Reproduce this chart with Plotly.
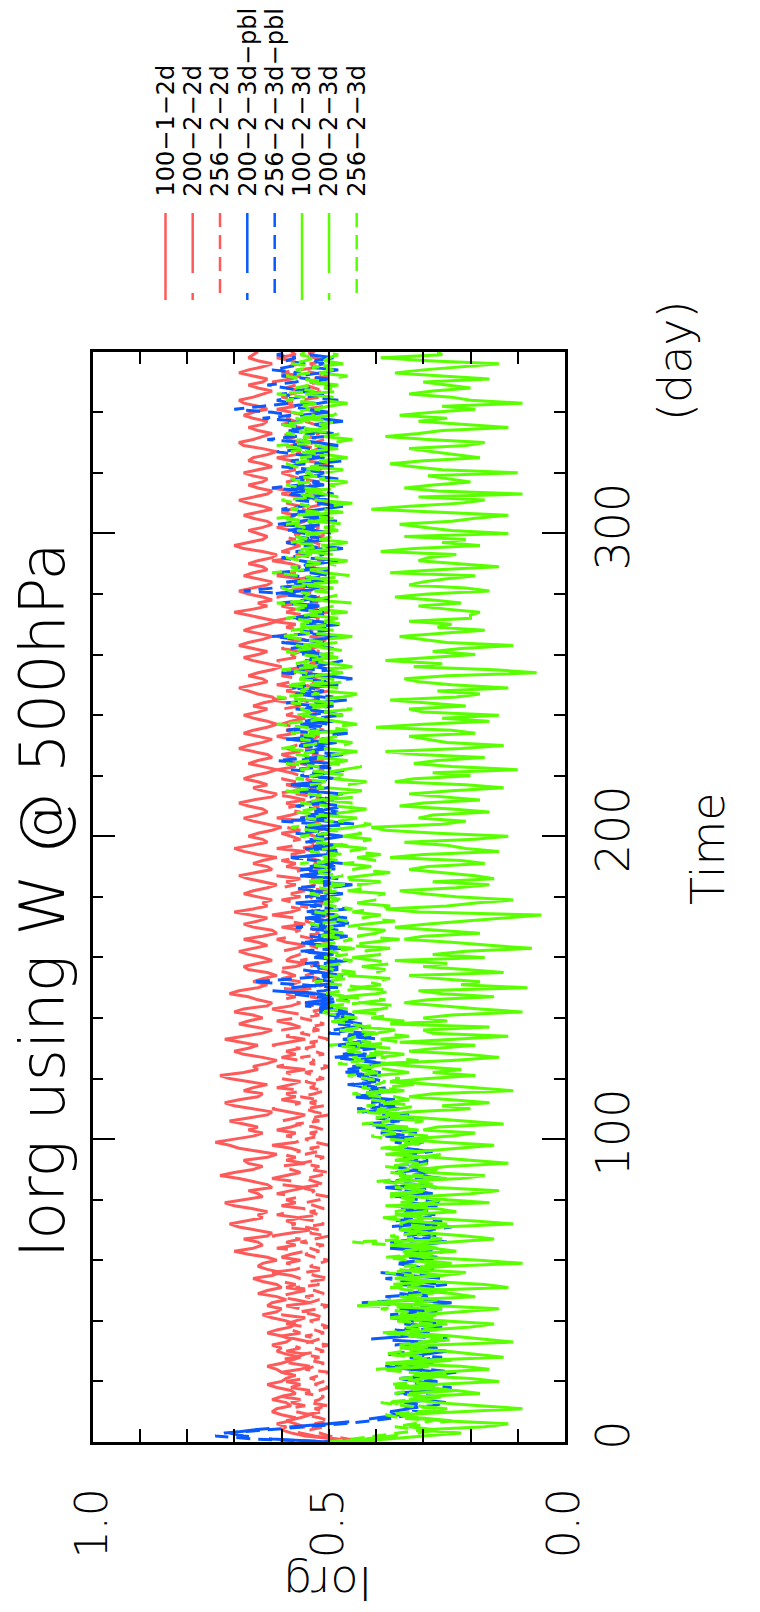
import plotly.graph_objects as go

W, H = 760, 1612

# one sample per day, day 0..360
DAYS = list(range(0, 361))

# Iorg time series, stored in hundredths (0.42 -> 42), 20 days per row
iorg_100_1_2d = [
    42, 49, 55, 58, 60, 59, 61, 58, 57, 60, 62, 61, 58, 59, 62, 60, 57, 58, 61, 63,
    60, 59, 57, 60, 61, 63, 60, 58, 56, 59, 61, 60, 62, 59, 58, 60, 63, 61, 58, 57,
    59, 62, 64, 61, 60, 63, 62, 59, 61, 65, 63, 60, 61, 64, 66, 62, 60, 63, 65, 64,
    61, 63, 67, 70, 66, 64, 65, 68, 63, 62, 66, 69, 71, 67, 64, 65, 63, 66, 70, 72,
    68, 64, 65, 67, 62, 63, 66, 69, 73, 70, 66, 64, 67, 68, 63, 61, 65, 69, 71, 74,
    70, 66, 64, 67, 65, 68, 71, 67, 63, 62, 66, 70, 72, 69, 65, 64, 68, 66, 63, 67,
    71, 73, 68, 65, 66, 63, 61, 64, 68, 70, 67, 65, 69, 72, 68, 64, 62, 66, 69, 67,
    64, 66, 70, 68, 63, 62, 65, 67, 71, 69, 65, 63, 66, 64, 61, 63, 67, 68, 65, 62,
    64, 67, 69, 66, 63, 65, 68, 64, 61, 62, 66, 68, 65, 63, 67, 70, 66, 63, 64, 62,
    65, 68, 66, 63, 61, 64, 67, 69, 65, 62, 63, 66, 64, 61, 65, 68, 70, 66, 63, 64,
    67, 65, 62, 60, 63, 66, 68, 65, 63, 64, 67, 69, 66, 62, 61, 64, 66, 63, 65, 68,
    66, 63, 61, 64, 67, 65, 62, 63, 66, 69, 67, 64, 62, 65, 68, 66, 63, 61, 63, 66,
    68, 65, 63, 66, 64, 61, 62, 65, 67, 69, 66, 63, 64, 67, 65, 62, 60, 63, 66, 68,
    65, 63, 66, 69, 67, 64, 62, 65, 68, 66, 63, 61, 64, 67, 70, 66, 63, 65, 62, 64,
    67, 69, 66, 63, 62, 65, 68, 66, 63, 64, 67, 65, 62, 61, 64, 68, 70, 67, 64, 63,
    65, 67, 64, 62, 63, 66, 68, 65, 62, 64, 67, 69, 66, 63, 62, 65, 67, 64, 63, 66,
    68, 65, 62, 64, 67, 66, 63, 61, 64, 68, 69, 66, 64, 62, 65, 67, 64, 63, 66, 68,
    66, 63, 65, 68, 69, 66, 64, 62, 65, 67, 64, 63, 66, 69, 67, 64, 62, 65, 67, 66,
    65,
]

iorg_200_2_2d = [
    44, 49, 53, 56, 58, 55, 57, 59, 56, 54, 57, 59, 55, 58, 56, 60, 57, 54, 58, 56,
    59, 55, 57, 60, 56, 54, 58, 61, 57, 55, 59, 56, 58, 54, 57, 60, 56, 58, 55, 59,
    57, 55, 60, 58, 56, 59, 54, 57, 61, 58, 55, 59, 57, 60, 56, 58, 62, 57, 55, 59,
    56, 60, 58, 55, 61, 57, 59, 56, 62, 58, 54, 60, 57, 59, 56, 61, 58, 55, 60, 57,
    59, 56, 61, 58, 55, 60, 57, 62, 59, 56, 58, 61, 55, 59, 57, 60, 56, 58, 62, 57,
    55, 59, 57, 61, 58, 56, 60, 57, 55, 59, 62, 58, 56, 60, 57, 59, 55, 61, 58, 56,
    60, 57, 59, 55, 61, 58, 56, 60, 57, 59, 56, 62, 58, 55, 59, 57, 60, 56, 58, 61,
    57, 55, 59, 62, 58, 56, 60, 57, 59, 55, 61, 58, 56, 60, 57, 59, 62, 57, 55, 59,
    58, 56, 60, 57, 55, 59, 61, 57, 58, 56, 60, 55, 59, 57, 62, 58, 56, 59, 57, 60,
    56, 58, 55, 60, 57, 59, 56, 61, 58, 55, 59, 57, 60, 56, 58, 55, 61, 57, 59, 56,
    58, 60, 56, 59, 57, 55, 61, 58, 56, 60, 57, 59, 55, 58, 62, 57, 56, 59, 57, 60,
    56, 58, 61, 57, 59, 55, 58, 60, 56, 59, 57, 54, 58, 61, 57, 59, 56, 60, 58, 55,
    59, 57, 60, 56, 58, 62, 57, 55, 59, 57, 61, 58, 56, 60, 57, 59, 55, 58, 61, 57,
    58, 56, 60, 57, 59, 55, 61, 58, 56, 59, 57, 62, 58, 55, 59, 57, 60, 56, 58, 61,
    57, 59, 55, 60, 58, 56, 61, 57, 59, 56, 58, 62, 57, 55, 60, 58, 56, 59, 57, 60,
    56, 58, 61, 57, 55, 59, 57, 60, 58, 56, 59, 57, 55, 60, 58, 62, 57, 59, 56, 58,
    60, 57, 59, 55, 58, 61, 57, 56, 60, 58, 55, 59, 57, 61, 58, 56, 60, 57, 59, 55,
    58, 61, 57, 59, 56, 60, 58, 55, 59, 57, 62, 58, 56, 60, 57, 59, 56, 58, 61, 57,
    58,
]

iorg_256_2_2d = [
    40, 46, 50, 52, 54, 51, 53, 50, 52, 55, 51, 53, 50, 54, 52, 51, 55, 52, 50, 53,
    51, 54, 52, 50, 55, 53, 51, 54, 52, 56, 51, 53, 50, 54, 52, 55, 51, 53, 50, 52,
    54, 51, 53, 56, 52, 50, 54, 52, 55, 51, 53, 57, 52, 54, 50, 53, 55, 51, 54, 52,
    50, 53, 55, 52, 54, 51, 56, 53, 50, 54, 52, 55, 51, 53, 57, 52, 54, 51, 53, 55,
    52, 50, 54, 53, 56, 51, 53, 55, 52, 50, 54, 52, 56, 53, 51, 55, 52, 54, 50, 53,
    55, 52, 54, 51, 53, 57, 52, 54, 50, 53, 55, 51, 54, 52, 56, 53, 51, 54, 52, 55,
    51, 53, 55, 52, 50, 54, 53, 56, 51, 53, 55, 52, 54, 50, 53, 56, 52, 54, 51, 53,
    56, 52, 54, 51, 53, 55, 50, 54, 52, 57, 53, 51, 54, 52, 55, 53, 50, 54, 52, 56,
    53, 51, 55, 52, 54, 50, 53, 56, 52, 54, 51, 53, 55, 52, 50, 54, 53, 56, 51, 53,
    54, 52, 50, 55, 53, 51, 54, 56, 52, 53, 50, 54, 52, 55, 51, 53, 56, 52, 54, 51,
    53, 55, 52, 50, 54, 52, 56, 53, 51, 54, 52, 55, 50, 53, 57, 52, 54, 51, 53, 55,
    52, 54, 51, 53, 56, 52, 50, 54, 53, 55, 51, 53, 54, 52, 56, 51, 53, 55, 52, 50,
    54, 52, 55, 51, 53, 56, 52, 54, 50, 53, 55, 52, 54, 51, 53, 57, 52, 54, 51, 53,
    55, 52, 54, 51, 53, 50, 54, 56, 52, 53, 51, 55, 52, 54, 50, 53, 56, 52, 54, 52,
    53, 55, 51, 54, 52, 56, 53, 50, 54, 52, 55, 51, 53, 57, 52, 54, 51, 53, 55, 52,
    50, 54, 52, 55, 53, 51, 54, 52, 56, 53, 50, 54, 52, 55, 51, 53, 54, 52, 56, 53,
    51, 54, 52, 50, 55, 53, 51, 54, 52, 56, 53, 51, 55, 52, 54, 50, 53, 55, 52, 54,
    52, 55, 51, 53, 56, 52, 54, 51, 53, 55, 52, 54, 50, 53, 56, 52, 54, 51, 53, 55,
    53,
]

iorg_200_2_3d_pbl = [
    50, 62, 68, 71, 66, 58, 50, 44, 39, 35, 37, 33, 30, 34, 28, 31, 36, 29, 33, 27,
    31, 35, 28, 26, 33, 38, 30, 27, 34, 29, 25, 32, 36, 30, 41, 33, 28, 31, 26, 34,
    29, 37, 32, 27, 35, 30, 24, 33, 38, 29, 31, 27, 35, 30, 26, 33, 39, 28, 32, 36,
    30, 27, 34, 29, 37, 32, 25, 31, 35, 28, 33, 38, 30, 26, 34, 31, 29, 36, 27, 33,
    30, 35, 28, 32, 38, 29, 34, 26, 31, 36, 30, 33, 28, 35, 31, 37, 29, 34, 32, 36,
    33, 38, 31, 36, 40, 34, 37, 32, 39, 43, 35, 38, 41, 36, 44, 39, 37, 42, 45, 38,
    41, 44, 39, 46, 42, 38, 45, 40, 47, 43, 41, 48, 44, 39, 46, 42, 49, 45, 43, 47,
    44, 50, 46, 52, 48, 55, 50, 47, 53, 62, 58, 51, 49, 54, 47, 52, 56, 48, 51, 46,
    53, 49, 55, 47, 51, 57, 50, 46, 53, 48, 52, 44, 50, 55, 48, 53, 46, 51, 57, 49,
    52, 47, 54, 50, 45, 53, 49, 56, 51, 47, 54, 49, 52, 58, 50, 46, 53, 48, 55, 51,
    47, 52, 49, 55, 44, 51, 56, 48, 53, 50, 46, 54, 49, 52, 47, 55, 50, 58, 52, 48,
    54, 50, 46, 53, 49, 57, 51, 47, 55, 50, 53, 48, 59, 52, 46, 54, 50, 56, 49, 53,
    47, 51, 55, 49, 53, 46, 52, 57, 50, 54, 48, 52, 45, 51, 56, 49, 53, 50, 47, 54,
    51, 56, 49, 53, 60, 52, 48, 55, 50, 54, 47, 53, 57, 51, 49, 55, 52, 58, 50, 54,
    62, 56, 52, 58, 51, 55, 49, 54, 50, 57, 52, 48, 55, 51, 53, 47, 52, 56, 50, 54,
    49, 53, 57, 51, 48, 54, 50, 56, 52, 47, 53, 50, 55, 49, 52, 58, 51, 54, 48, 53,
    51, 55, 49, 53, 47, 52, 56, 50, 54, 48, 52, 57, 51, 49, 55, 50, 53, 47, 52, 56,
    50, 54, 59, 52, 48, 55, 51, 57, 53, 49, 54, 50, 56, 52, 48, 55, 51, 53, 49, 54,
    52,
]

iorg_256_2_3d_pbl = [
    48, 66, 74, 72, 63, 55, 47, 41, 36, 33, 30, 34, 28, 25, 31, 27, 35, 29, 24, 32,
    27, 33, 29, 23, 30, 36, 28, 32, 26, 38, 31, 27, 34, 29, 24, 33, 28, 36, 30, 26,
    33, 28, 37, 31, 26, 34, 43, 32, 29, 35, 27, 31, 25, 33, 38, 29, 34, 27, 31, 36,
    28, 33, 30, 25, 35, 29, 37, 31, 27, 34, 29, 24, 32, 36, 30, 27, 34, 29, 33, 26,
    31, 36, 29, 34, 27, 32, 38, 30, 35, 28, 33, 37, 31, 29, 35, 32, 28, 36, 33, 30,
    36, 32, 39, 34, 37, 42, 35, 40, 33, 38, 44, 36, 41, 37, 45, 39, 42, 38, 46, 40,
    43, 39, 47, 41, 45, 38, 44, 49, 42, 46, 40, 48, 43, 47, 41, 50, 45, 42, 48, 46,
    49, 44, 52, 47, 55, 50, 46, 53, 58, 51, 48, 56, 66, 57, 50, 54, 48, 52, 55, 47,
    53, 50, 56, 48, 52, 55, 49, 54, 47, 51, 57, 50, 53, 46, 52, 55, 49, 54, 51, 48,
    55, 50, 53, 57, 49, 52, 48, 54, 51, 56, 50, 47, 53, 58, 51, 49, 55, 52, 50, 54,
    51, 57, 49, 54, 52, 60, 50, 55, 48, 53, 57, 51, 49, 54, 52, 58, 50, 55, 53, 49,
    56, 52, 58, 50, 54, 61, 53, 49, 55, 51, 57, 53, 50, 56, 52, 59, 54, 50, 55, 52,
    54, 50, 57, 52, 59, 53, 49, 55, 51, 58, 54, 50, 56, 52, 60, 53, 57, 51, 55, 49,
    56, 52, 58, 54, 51, 57, 62, 53, 56, 50, 55, 52, 58, 54, 51, 57, 53, 60, 55, 52,
    57, 68, 62, 55, 59, 53, 57, 61, 54, 58, 52, 56, 60, 54, 57, 51, 55, 59, 53, 57,
    55, 59, 53, 61, 56, 52, 58, 54, 60, 55, 51, 57, 53, 59, 55, 62, 56, 52, 58, 54,
    57, 53, 60, 55, 58, 52, 56, 61, 54, 58, 55, 63, 57, 53, 59, 55, 60, 56, 64, 58,
    62, 70, 64, 58, 61, 56, 60, 55, 59, 63, 57, 54, 60, 56, 62, 58, 55, 59, 57, 61,
    58,
]

iorg_100_2_3d = [
    45, 38, 30, 22, 31, 17, 12, 26, 33, 35, 21, 9, 18, 27, 33, 30, 18, 23, 36, 28,
    14, 20, 32, 27, 16, 22, 38, 30, 13, 19, 25, 35, 28, 11, 17, 24, 33, 29, 20, 15,
    26, 37, 30, 22, 14, 27, 40, 33, 19, 24, 31, 12, 17, 28, 36, 26, 21, 33, 25, 9,
    18, 30, 34, 23, 28, 37, 24, 15, 21, 29, 32, 26, 11, 19, 30, 35, 23, 27, 38, 16,
    25, 31, 20, 14, 27, 33, 36, 22, 17, 29, 31, 25, 12, 20, 28, 38, 30, 21, 15, 26,
    34, 24, 19, 30, 27, 13, 22, 29, 38, 33, 20, 26, 16, 24, 33, 28, 11, 19, 27, 36,
    29, 19, 28, 22, 31, 39, 24, 14, 21, 33, 27, 19, 35, 23, 12, 28, 30, 16, 37, 25,
    30, 24, 9, 18, 27, 34, 29, 15, 26, 31, 8, 22, 18, 27, 33, 13, 21, 30, 25, 36,
    17, 28, 21, 7, 16, 24, 34, 30, 18, 27, 36, 29, 21, 14, 5, 31, 38, 25, 19, 11,
    23, 30, 35, 23, 16, 28, 15, 19, 26, 33, 29, 17, 22, 37, 30, 14, 21, 25, 34, 19,
    12, 27, 38, 41, 26, 21, 31, 28, 16, 24, 35, 30, 18, 26, 33, 24, 13, 21, 36, 32,
    20, 28, 10, 24, 32, 27, 17, 31, 38, 22, 13, 25, 29, 33, 19, 24, 40, 30, 16, 26,
    14, 30, 33, 21, 29, 37, 23, 18, 27, 12, 24, 31, 34, 25, 6, 15, 32, 26, 38, 29,
    19, 28, 22, 11, 25, 30, 35, 26, 17, 27, 24, 33, 20, 20, 18, 25, 31, 22, 28, 36,
    29, 16, 21, 33, 30, 25, 19, 37, 27, 14, 22, 31, 29, 23, 39, 32, 18, 26, 21, 34,
    12, 24, 30, 35, 24, 19, 12, 28, 41, 33, 22, 17, 31, 9, 27, 34, 28, 20, 24, 29,
    10, 26, 32, 37, 30, 18, 23, 28, 33, 21, 17, 29, 38, 31, 26, 12, 21, 31, 25, 35,
    28, 19, 26, 9, 20, 24, 33, 28, 20, 25, 30, 16, 27, 36, 30, 22, 14, 29, 39, 26,
    27,
]

iorg_200_2_3d = [
    48, 42, 36, 31, 27, 33, 29, 24, 31, 35, 28, 25, 32, 37, 29, 26, 33, 22, 30, 27,
    34, 29, 25, 31, 38, 27, 32, 24, 30, 35, 28, 26, 33, 29, 23, 31, 36, 27, 30, 25,
    32, 28, 35, 30, 26, 44, 31, 27, 34, 29, 25, 32, 37, 28, 33, 26, 30, 35, 29, 24,
    31, 36, 28, 33, 27, 30, 38, 26, 32, 29, 35, 31, 25, 33, 28, 36, 30, 27, 34, 29,
    26, 32, 37, 29, 34, 28, 31, 25, 35, 30, 27, 33, 29, 36, 31, 26, 32, 38, 30, 34,
    33, 29, 36, 31, 38, 34, 30, 37, 32, 40, 35, 31, 38, 33, 36, 42, 34, 39, 32, 37,
    35, 40, 33, 38, 42, 36, 31, 39, 34, 41, 37, 44, 35, 39, 33, 40, 36, 43, 38, 34,
    41, 37, 45, 39, 35, 43, 38, 47, 40, 36, 44, 39, 42, 37, 46, 40, 38, 43, 36, 41,
    45, 39, 43, 37, 46, 41, 35, 44, 40, 38, 47, 42, 36, 43, 39, 45, 41, 37, 44, 40,
    42, 38, 46, 41, 44, 39, 48, 43, 37, 45, 41, 47, 40, 44, 39, 46, 42, 49, 44, 41,
    47, 43, 50, 45, 41, 48, 44, 52, 46, 42, 49, 45, 51, 44, 48, 43, 50, 46, 42, 49,
    45, 51, 47, 43, 50, 46, 53, 48, 44, 51, 47, 45, 52, 48, 54, 46, 50, 44, 49, 53,
    47, 51, 45, 53, 49, 55, 47, 44, 51, 48, 54, 46, 50, 53, 47, 52, 45, 49, 55, 48,
    52, 46, 50, 54, 48, 51, 45, 53, 49, 56, 47, 51, 48, 54, 46, 52, 49, 45, 53, 50,
    47, 53, 49, 56, 48, 52, 45, 51, 54, 47, 50, 46, 53, 49, 55, 48, 51, 46, 52, 49,
    54, 48, 51, 46, 53, 49, 56, 47, 52, 50, 45, 53, 48, 51, 55, 47, 50, 46, 52, 49,
    51, 47, 54, 49, 52, 46, 50, 55, 48, 53, 49, 45, 51, 47, 54, 50, 52, 48, 56, 49,
    48, 53, 50, 46, 52, 49, 55, 47, 51, 48, 54, 50, 46, 52, 49, 53, 47, 51, 50, 48,
    52,
]

iorg_256_2_3d = [
    50, 45, 40, 34, 30, 36, 32, 28, 35, 38, 31, 27, 34, 39, 32, 29, 36, 33, 28, 37,
    31, 35, 28, 33, 40, 30, 36, 27, 32, 38, 34, 29, 35, 31, 26, 33, 39, 30, 34, 28,
    36, 31, 27, 34, 39, 32, 42, 30, 35, 28, 33, 37, 31, 29, 36, 32, 38, 30, 34, 27,
    33, 38, 30, 35, 29, 36, 45, 32, 37, 31, 34, 28, 35, 33, 39, 30, 36, 32, 29, 35,
    31, 37, 33, 29, 36, 32, 40, 34, 30, 37, 33, 38, 31, 35, 29, 36, 32, 39, 34, 30,
    37, 41, 35, 39, 33, 43, 37, 40, 35, 44, 38, 42, 36, 41, 39, 45, 37, 43, 40, 38,
    42, 46, 39, 44, 40, 48, 42, 45, 38, 47, 43, 50, 41, 46, 44, 39, 48, 42, 45, 50,
    44, 48, 52, 46, 50, 43, 49, 45, 51, 47, 42, 48, 53, 46, 50, 44, 49, 52, 47, 45,
    51, 46, 50, 44, 53, 48, 45, 52, 47, 51, 49, 54, 46, 50, 48, 53, 45, 49, 52, 47,
    50, 54, 48, 52, 46, 55, 50, 47, 53, 49, 51, 56, 48, 52, 47, 54, 50, 46, 53, 51,
    56, 50, 54, 58, 52, 49, 55, 51, 57, 53, 50, 56, 52, 48, 55, 59, 51, 54, 50, 57,
    53, 50, 56, 52, 59, 54, 51, 57, 53, 60, 55, 50, 56, 53, 58, 52, 55, 61, 54, 51,
    57, 53, 56, 50, 58, 55, 61, 52, 56, 54, 59, 51, 57, 53, 55, 60, 52, 57, 54, 50,
    56, 59, 53, 57, 51, 55, 60, 54, 58, 52, 56, 53, 59, 55, 51, 57, 54, 61, 53, 56,
    54, 58, 60, 53, 57, 52, 56, 62, 55, 58, 51, 56, 59, 53, 57, 55, 50, 58, 54, 57,
    52, 57, 55, 59, 53, 61, 56, 52, 58, 54, 57, 60, 53, 56, 51, 55, 59, 54, 58, 52,
    55, 52, 57, 59, 54, 56, 50, 58, 55, 61, 53, 57, 54, 59, 52, 56, 60, 54, 57, 53,
    58, 54, 56, 52, 59, 55, 61, 53, 57, 54, 50, 56, 59, 54, 57, 52, 58, 55, 53, 56,
    55,
]

RED, BLUE, GREEN = "#ff5a5a", "#0a5aff", "#5aff00"
SOLID, LONG, SHORT = "solid", "60px,20px", "14px,8px"

runs = [
    ("100−1−2d", iorg_100_1_2d, RED, SOLID),
    ("200−2−2d", iorg_200_2_2d, RED, LONG),
    ("256−2−2d", iorg_256_2_2d, RED, SHORT),
    ("200−2−3d−pbl", iorg_200_2_3d_pbl, BLUE, LONG),
    ("256−2−3d−pbl", iorg_256_2_3d_pbl, BLUE, SHORT),
    ("100−2−3d", iorg_100_2_3d, GREEN, SOLID),
    ("200−2−3d", iorg_200_2_3d, GREEN, LONG),
    ("256−2−3d", iorg_256_2_3d, GREEN, SHORT),
]
for name, vals, _, _ in runs:
    assert len(vals) == len(DAYS), (name, len(vals))

FONT = "DejaVu Sans"
THIN = dict(family=FONT, color="black", weight=200)
PLAIN = dict(family=FONT, color="black", weight=400)


def px(x):
    return x / W


def py(y):
    return 1 - y / H


fig = go.Figure()
for name, vals, color, dash in runs:
    fig.add_trace(go.Scatter(
        x=[v / 100 for v in vals], y=DAYS, mode="lines", name=name,
        showlegend=False, line=dict(color=color, width=3, dash=dash),
    ))

# reference line at Iorg = 0.5
fig.add_shape(type="line", xref="x", yref="y", x0=0.5, x1=0.5, y0=0, y1=360,
              line=dict(color="black", width=1.6), layer="above")

fig.update_layout(
    width=W, height=H, margin=dict(l=0, r=0, t=0, b=0, autoexpand=False),
    paper_bgcolor="white", plot_bgcolor="white",
    font=THIN,
    xaxis=dict(
        domain=[px(92.5), px(565)], range=[1.0, 0.0], automargin=False,
        tickvals=[0.0, 0.5, 1.0], ticktext=["0.0", "0.5", "1.0"],
        tickangle=-90, tickfont=dict(size=44, **THIN),
        ticks="inside", ticklen=13, tickwidth=1.5, tickcolor="black",
        minor=dict(dtick=0.1, ticks="inside", ticklen=13, tickwidth=1.5, tickcolor="black"),
        showline=True, linewidth=2.5, linecolor="black", mirror="ticks",
        showgrid=False, zeroline=False, ticklabelstandoff=26,
    ),
    yaxis=dict(
        domain=[py(1442), py(351.7)], range=[0, 360], side="right", automargin=False,
        tickvals=[0, 100, 200, 300],
        tickangle=-90, tickfont=dict(size=46, **THIN),
        ticks="inside", ticklen=23, tickwidth=1.5, tickcolor="black",
        minor=dict(dtick=20, ticks="inside", ticklen=11, tickwidth=1.5, tickcolor="black"),
        showline=True, linewidth=2.5, linecolor="black", mirror="ticks",
        showgrid=False, zeroline=False, ticklabelstandoff=6,
    ),
)

ann = [
    dict(text="Iorg using W @ 500hPa", x=px(42), y=py(900), textangle=-90, font=dict(size=62, **THIN)),
    dict(text="Time", x=px(708), y=py(849), textangle=-90, font=dict(size=46, **THIN)),
    dict(text="(day)", x=px(675), y=py(361), textangle=-90, font=dict(size=46, **THIN)),
    dict(text="Iorg", x=px(329), y=py(1583), textangle=180, font=dict(size=46, **THIN)),
]
for a in ann:
    fig.add_annotation(xref="paper", yref="paper", showarrow=False,
                       xanchor="center", yanchor="middle", **a)

# legend: rotated labels with vertical line samples below
col_x = [165.5, 192.7, 220, 247.3, 274.7, 302, 329, 356.7]
for cx, (name, _, color, dash) in zip(col_x, runs):
    fig.add_annotation(xref="paper", yref="paper", showarrow=False,
                       x=px(cx), y=py(199), xanchor="center", yanchor="bottom",
                       text=name, textangle=-90, font=dict(size=24, **PLAIN))
    fig.add_shape(type="line", xref="paper", yref="paper",
                  x0=px(cx), x1=px(cx), y0=py(213), y1=py(300),
                  line=dict(color=color, width=2.5, dash=dash))

fig.write_html("out.html")
